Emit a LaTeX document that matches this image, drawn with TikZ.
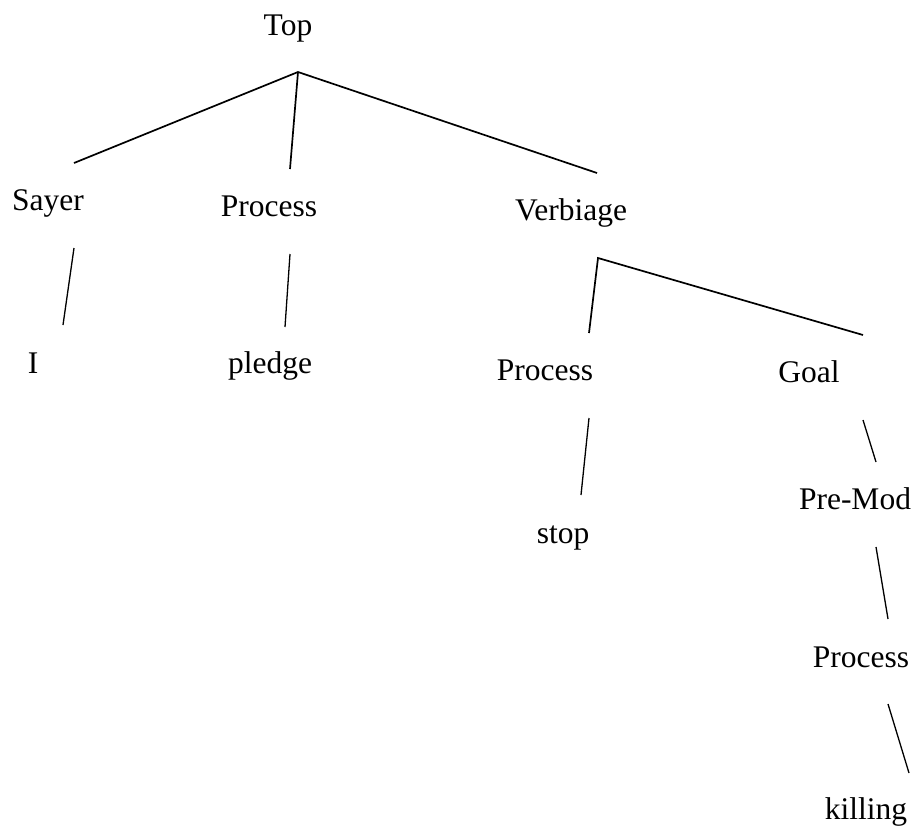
\documentclass[tikz,border=0pt]{standalone}
\usepackage{fontspec}
\setmainfont{Liberation Serif}
\begin{document}
\begin{tikzpicture}[x=1pt,y=-1pt,
  label/.style={anchor=base,inner sep=0pt,font=\fontsize{31.5}{37}\selectfont},
  branch/.style={line width=1.7pt},
  stem/.style={line width=1.3pt}]
\useasboundingbox (0,0) rectangle (912,825);

% constituent labels
\node[label] (top)      at (288,35)  {Top};
\node[label] (sayer)    at (48,210)  {Sayer};
\node[label] (proc)     at (269,216) {Process};
\node[label] (verb)     at (571,220) {Verbiage};
\node[label] (i)        at (33,373)  {I};
\node[label] (pledge)   at (270,373) {pledge};
\node[label] (vproc)    at (545,380) {Process};
\node[label] (goal)     at (809,382) {Goal};
\node[label] (stop)     at (563,543) {stop};
\node[label] (premod)   at (855,509) {Pre-Mod};
\node[label] (mproc)    at (861,667) {Process};
\node[label] (killing)  at (866,819) {killing};

% branching points and line ends
\coordinate (topjoin)  at (298,72);
\coordinate (sayerup)  at (74,163);
\coordinate (procup)   at (290,169);
\coordinate (verbup)   at (597,173);
\coordinate (verbjoin) at (598,258);
\coordinate (vprocup)  at (589,333);
\coordinate (goalup)   at (863,335);

\coordinate (sayerdn)  at (74,248);
\coordinate (iup)      at (63,325);
\coordinate (procdn)   at (290,254);
\coordinate (pledgeup) at (285,327);
\coordinate (vprocdn)  at (589,418);
\coordinate (stopup)   at (581,495);
\coordinate (goaldn)   at (863,420);
\coordinate (premodup) at (876,462);
\coordinate (premoddn) at (876,547);
\coordinate (mprocup)  at (888,619);
\coordinate (mprocdn)  at (888,704);
\coordinate (killup)   at (909,773);

% tree structure
\draw[branch] (sayerup) -- (topjoin) -- (verbup);
\draw[branch] (topjoin) -- (procup);
\draw[branch] (vprocup) -- (verbjoin) -- (goalup);

\draw[stem] (sayerdn) -- (iup);
\draw[stem] (procdn) -- (pledgeup);
\draw[stem] (vprocdn) -- (stopup);
\draw[stem] (goaldn) -- (premodup);
\draw[stem] (premoddn) -- (mprocup);
\draw[stem] (mprocdn) -- (killup);
\end{tikzpicture}
\end{document}
